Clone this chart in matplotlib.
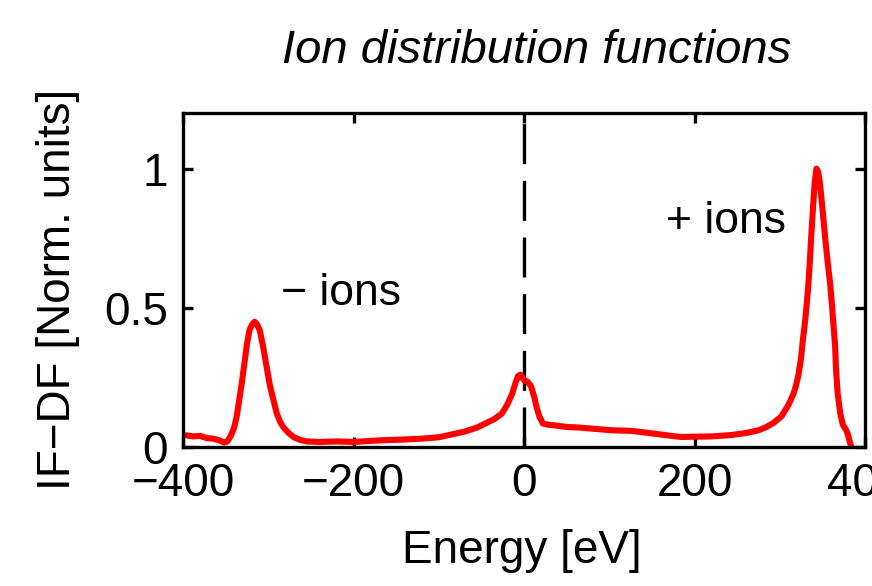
import numpy as np
import matplotlib
matplotlib.use("Agg")
import matplotlib.pyplot as plt

plt.rcParams['font.family'] = ['Liberation Sans', 'DejaVu Sans']

# ion energy distribution (normalised), energy in eV
energy = [-396, -388, -380, -372, -365, -358, -352, -348, -344, -340, -337, -334, -331, -328,
          -325, -322, -319, -316, -313, -310, -306, -302, -298, -294, -290, -286,
          -282, -276, -270, -262, -255, -240, -220, -200, -180, -160, -140, -120,
          -100, -85, -70, -55, -45, -35, -26, -20, -14, -10, -7, -4, 0, 4, 8, 12,
          15, 18, 22, 28, 35, 50, 64, 80, 103, 126, 142, 160, 178, 185, 200, 220,
          243, 260, 275, 283, 292, 298, 302, 306, 310, 313, 316, 319, 322, 325,
          327, 330, 333, 335, 337, 339, 341, 343, 345, 347, 350, 353, 356, 359,
          361, 363, 365, 366, 368, 371, 374, 378, 380, 382, 384]
iedf = [0.042, 0.038, 0.040, 0.032, 0.030, 0.025, 0.016, 0.020, 0.040, 0.070, 0.110, 0.170, 0.230, 0.300,
        0.370, 0.420, 0.440, 0.450, 0.440, 0.420, 0.360, 0.290, 0.220, 0.170, 0.120, 0.090,
        0.070, 0.050, 0.035, 0.025, 0.020, 0.018, 0.020, 0.018, 0.022, 0.025, 0.027, 0.030,
        0.035, 0.045, 0.055, 0.070, 0.085, 0.100, 0.120, 0.150, 0.190, 0.230, 0.255, 0.260, 0.240, 0.235, 0.220, 0.180,
        0.140, 0.110, 0.085, 0.080, 0.078, 0.072, 0.070, 0.066, 0.060, 0.058, 0.052, 0.045, 0.038, 0.036, 0.037, 0.038,
        0.043, 0.050, 0.060, 0.070, 0.085, 0.100, 0.110, 0.130, 0.150, 0.170, 0.190, 0.220, 0.260, 0.320,
        0.380, 0.460, 0.560, 0.650, 0.760, 0.860, 0.950, 1.000, 0.990, 0.950, 0.860, 0.760, 0.670, 0.590,
        0.520, 0.440, 0.360, 0.280, 0.190, 0.120, 0.080, 0.060, 0.045, 0.020, 0.000]

xticks = [-400, -200, 0, 200, 400]
yticks = [0, 0.5, 1]

fig = plt.figure(figsize=(8.72, 5.86), dpi=100)
ax = fig.add_axes([183 / 872, 139 / 586, 682 / 872, 334 / 586])

ax.plot([0, 0], [0, 1.2], color='black', lw=2.4, linestyle=(0, (12, 5)), zorder=1)
ax.plot(energy, iedf, color='#ff0000', lw=4.4, solid_joinstyle='round',
        solid_capstyle='round', zorder=2)

ax.set_xlim(-400, 400)
ax.set_ylim(0, 1.2)
ax.set_xticks(xticks)
ax.set_yticks(yticks)
ax.set_xticklabels(['\u2212400', '\u2212200', '0', '200', '400'])
ax.set_yticklabels(['0', '0.5', '1'])
ax.tick_params(direction='in', length=7, width=2.4, labelsize=33,
               top=True, right=True, pad=11)
for s in ax.spines.values():
    s.set_linewidth(2.4)

ax.text(-215, 0.55, '\u2212 ions', fontsize=32, ha='center', va='center')
ax.text(237, 0.81, '+ ions', fontsize=32, ha='center', va='center')

fig.text(537 / 872, 523 / 586, 'Ion distribution functions', fontsize=34,
         style='italic', ha='center', va='baseline')
fig.text(522 / 872, 23 / 586, 'Energy [eV]', fontsize=33, ha='center', va='baseline')
fig.text(58 / 872, 297 / 586, 'IF\u2212DF [Norm. units]', fontsize=33,
         rotation=90, ha='center', va='center')

fig.savefig('out.png', dpi=100)
